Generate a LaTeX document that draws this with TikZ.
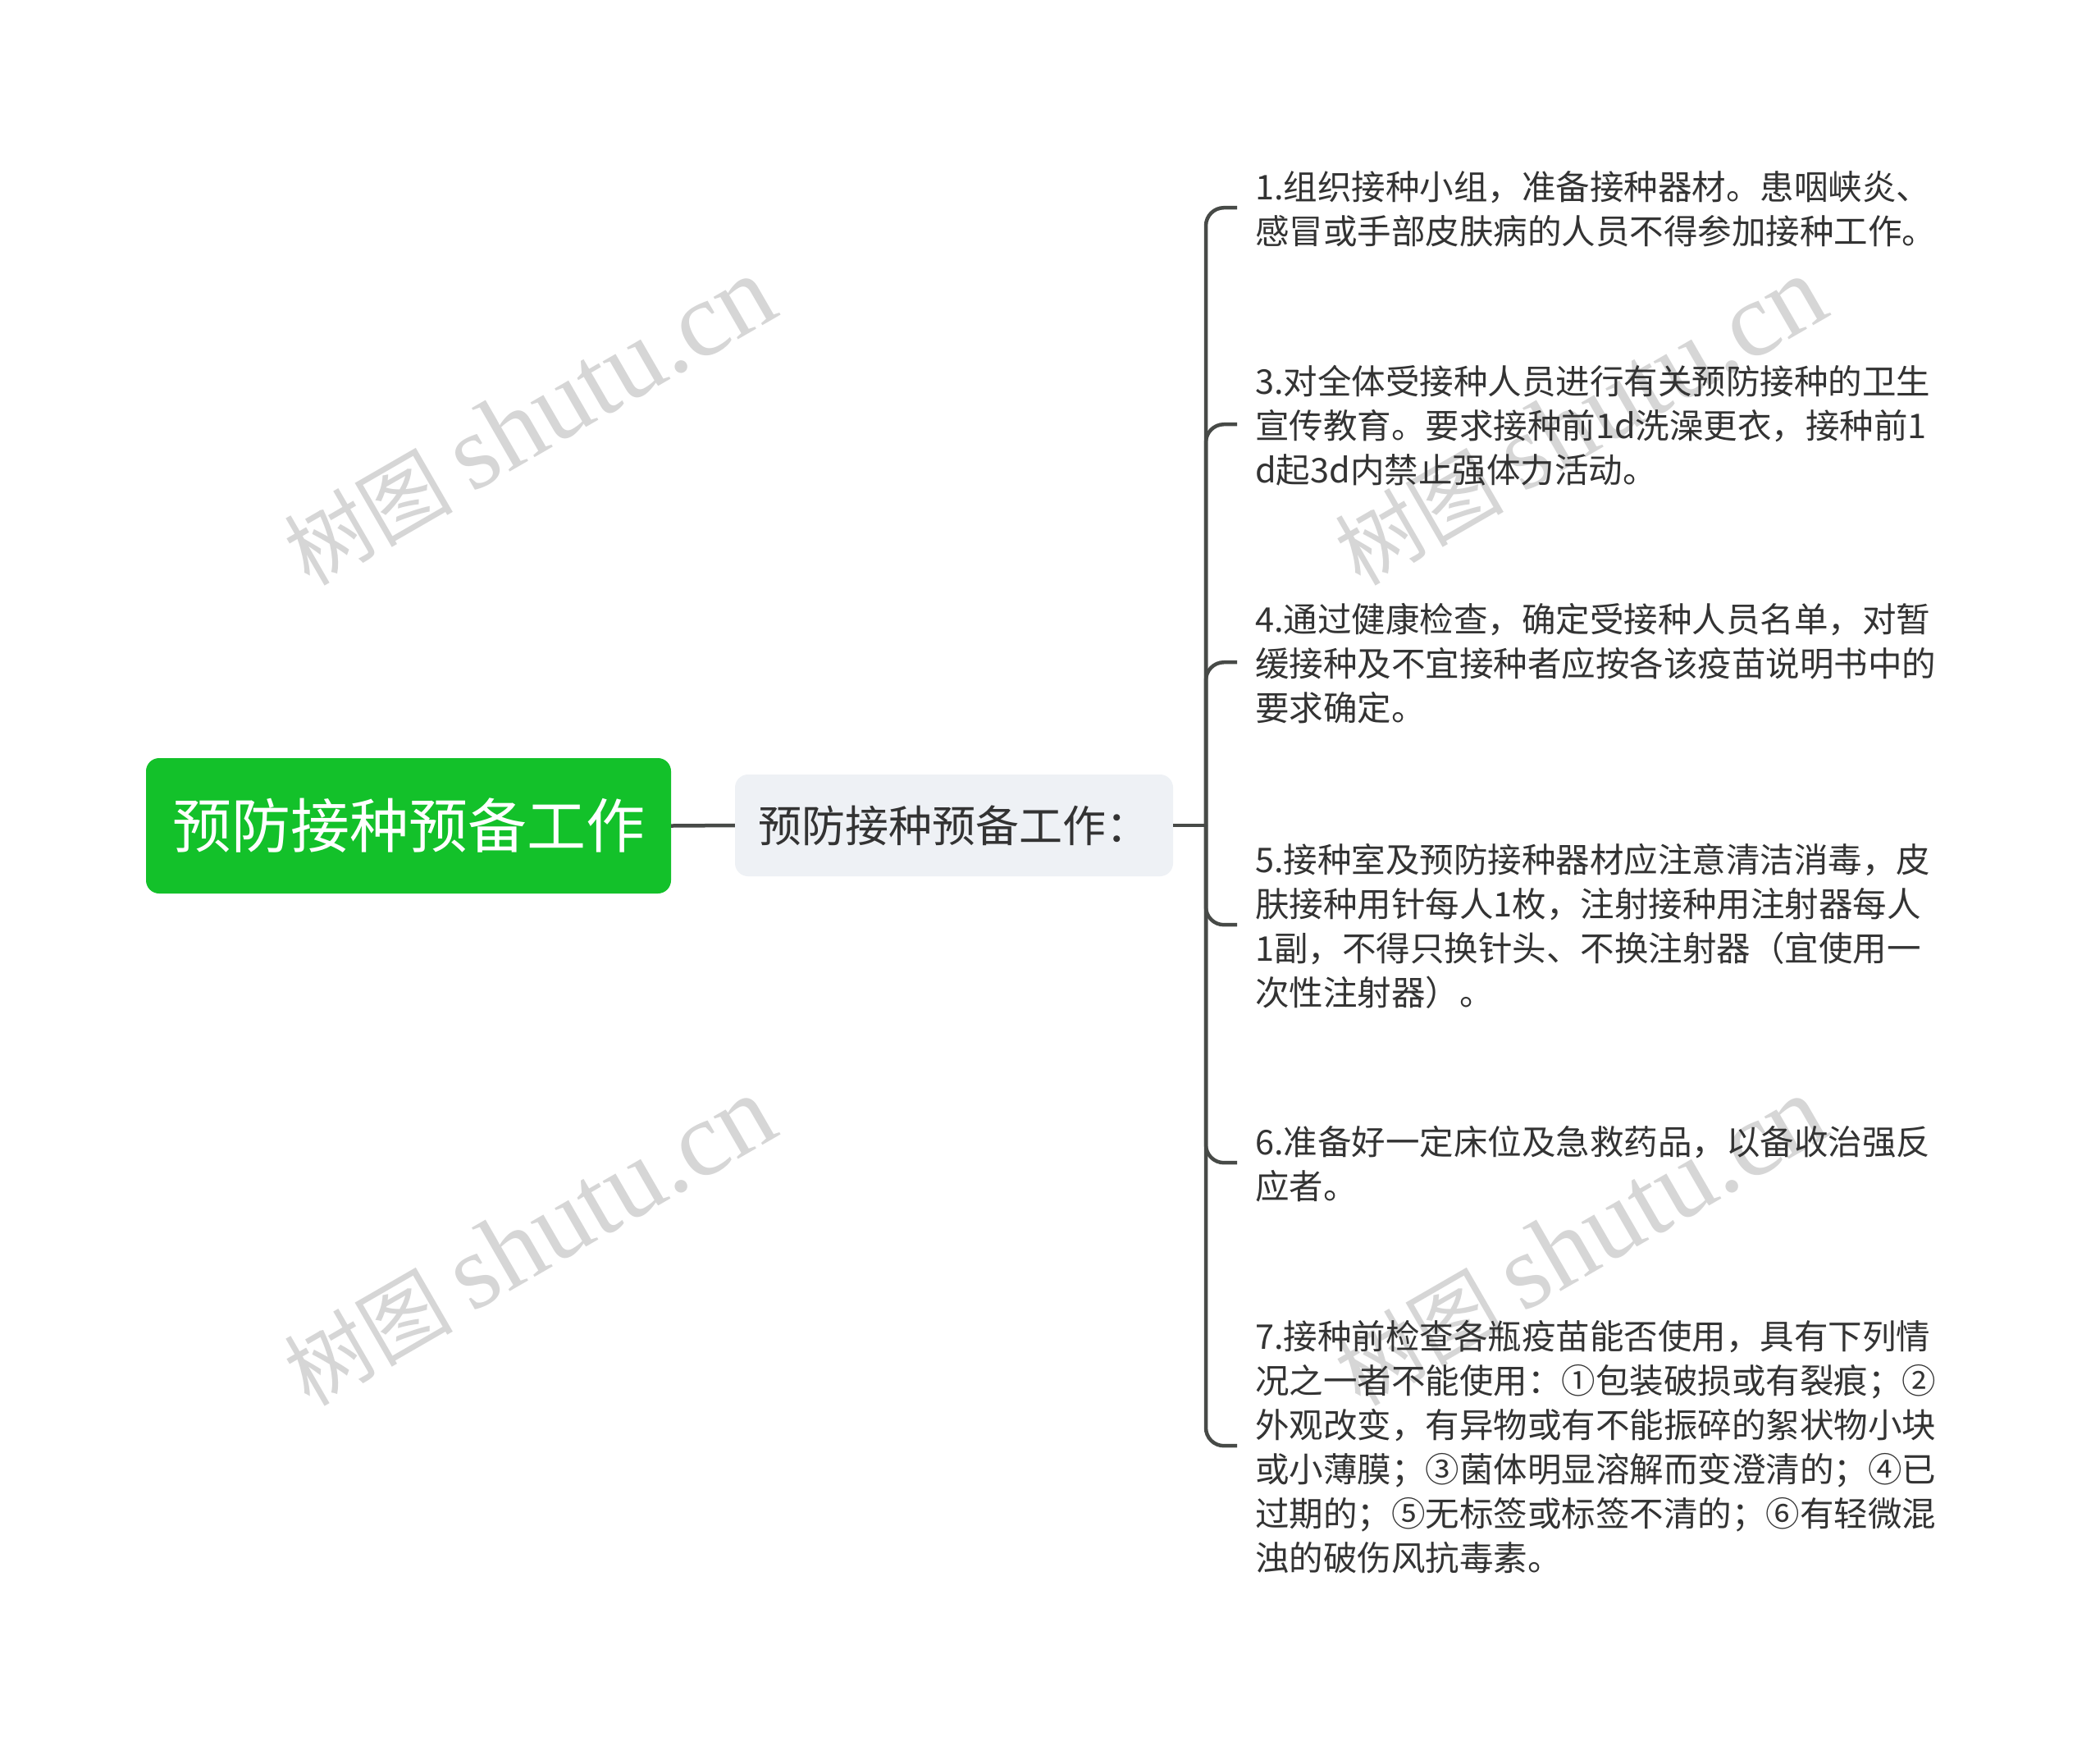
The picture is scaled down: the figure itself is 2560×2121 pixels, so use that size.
\documentclass[tikz,border=0pt]{standalone}
\usepackage{fontspec}
\setmainfont{Noto Sans CJK SC}
\newfontfamily\wmlatin{Liberation Serif}
\newfontfamily\wmcjk{Noto Sans CJK SC}
\definecolor{rootgreen}{HTML}{13C12A}
\definecolor{subfill}{HTML}{EEF1F5}
\definecolor{linec}{HTML}{474A47}
\definecolor{textc}{HTML}{333333}
\definecolor{wmc}{HTML}{D6D6D6}
\begin{document}
\begin{tikzpicture}[x=1pt,y=-1pt,
  conn/.style={draw=linec, line width=4.5pt},
  rootbox/.style={fill=rootgreen, rounded corners=16pt, minimum width=640pt, minimum height=165pt, text=white, font=\fontsize{72}{80}\selectfont, inner sep=0pt},
  subbox/.style={fill=subfill, rounded corners=16pt, minimum width=534pt, minimum height=124pt, text=textc, font=\fontsize{53}{60}\selectfont, inner sep=0pt},
  leaf/.style={anchor=north west, align=left, inner sep=0pt, text=textc, font=\fontsize{41.5}{54}\selectfont},
  wm/.style={text=wmc, rotate=30, inner sep=0pt}
]
\useasboundingbox[fill=white] (0,0) rectangle (2560,2121);
% watermarks
\node[wm] (w1) at (645,514) {\fontsize{103}{110}\wmcjk 树图 \fontsize{130}{130}\wmlatin shutu.cn};
\node[wm] (w2) at (1926,514) {\fontsize{103}{110}\wmcjk 树图 \fontsize{130}{130}\wmlatin shutu.cn};
\node[wm] (w3) at (645,1513) {\fontsize{103}{110}\wmcjk 树图 \fontsize{130}{130}\wmlatin shutu.cn};
\node[wm] (w4) at (1926,1513) {\fontsize{103}{110}\wmcjk 树图 \fontsize{130}{130}\wmlatin shutu.cn};
% main nodes
\node[rootbox] (root) at (498,1006.5) {预防接种预备工作};
\node[subbox] (sub) at (1163,1006) {预防接种预备工作：};
\coordinate (j) at (1470,1006);
% leaves
\node[leaf] (l1) at (1530,205) {\strut 1.组织接种小组，准备接种器材。患咽峡炎、\\\strut 感冒或手部皮肤病的人员不得参加接种工作。};
\node[leaf] (l3) at (1530,442) {\strut 3.对全体受接种人员进行有关预防接种的卫生\\\strut 宣传教育。要求接种前1d洗澡更衣，接种前1\\\strut d起3d内禁止强体力活动。};
\node[leaf] (l4) at (1530,732) {\strut 4.通过健康检查，确定受接种人员名单，对暂\\\strut 缓接种及不宜接种者应按各该疫苗说明书中的\\\strut 要求确定。};
\node[leaf] (l5) at (1530,1025) {\strut 5.接种室及预防接种器材应注意清洁消毒，皮\\\strut 肤接种用针每人1枚，注射接种用注射器每人\\\strut 1副，不得只换针头、不换注射器（宜使用一\\\strut 次性注射器）。};
\node[leaf] (l6) at (1530,1369) {\strut 6.准备好一定床位及急救药品，以备收治强反\\\strut 应者。};
\node[leaf] (l7) at (1530,1606) {\strut 7.接种前检查各瓶疫苗能否使用，具有下列情\\\strut 况之一者不能使用：①包装破损或有裂痕；②\\\strut 外观改变，有异物或有不能振碎的絮状物小块\\\strut 或小薄膜；③菌体明显溶解而变澄清的；④已\\\strut 过期的；⑤无标签或标签不清的；⑥有轻微混\\\strut 浊的破伤风抗毒素。};
% connectors
\draw[conn] (root.east) -- (sub.west);
\draw[conn] (sub.east) -- (j);
\foreach \n in {l1,l3,l4,l5,l6,l7}
  \draw[conn, rounded corners=22pt] (j) |- ([xshift=-22pt,yshift=6pt]\n.west);
\end{tikzpicture}
\end{document}
